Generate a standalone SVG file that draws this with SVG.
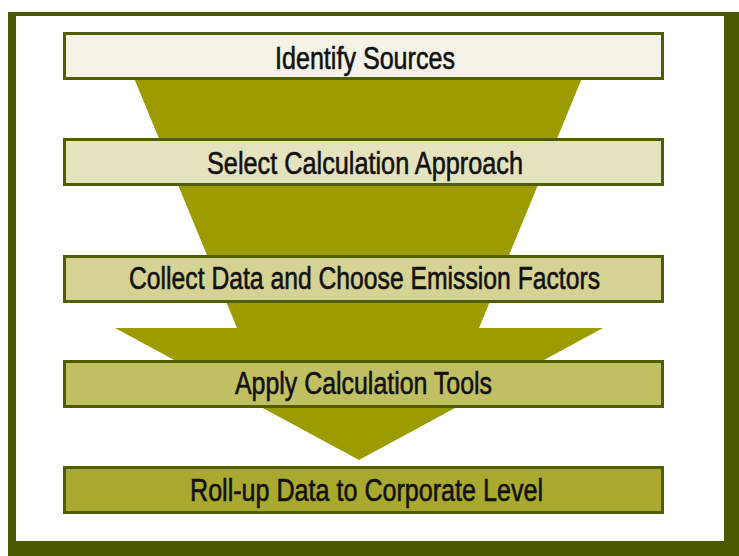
<svg xmlns="http://www.w3.org/2000/svg" width="739" height="556" viewBox="0 0 739 556">
<style>
.box{stroke:#4f5e00;stroke-width:3}
.lbl{font-family:"Liberation Sans",Arial,sans-serif;font-size:31px;fill:#111;stroke:#111;stroke-width:0.6;text-anchor:start}
</style>
<rect x="8" y="12" width="731" height="544" fill="#4b5a00"/>
<rect x="16" y="16" width="708" height="525" fill="#ffffff"/>
<g id="connectors">
<polygon points="134,78 582,78 479,328 603,328 359,460 115,328 237,328" fill="#9c9c00"/>
</g>
<g id="node1">
<rect class="box" x="64.5" y="33.5" width="598" height="45" fill="#f5f3e7"/>
<text class="lbl" x="275" y="69" textLength="180" lengthAdjust="spacingAndGlyphs">Identify Sources</text>
</g>
<g id="node2">
<rect class="box" x="64.5" y="139.5" width="598" height="45" fill="#e5e3bd"/>
<text class="lbl" x="207" y="174" textLength="316" lengthAdjust="spacingAndGlyphs">Select Calculation Approach</text>
</g>
<g id="node3">
<rect class="box" x="64.5" y="256.5" width="598" height="45" fill="#d5d393"/>
<text class="lbl" x="129" y="289" textLength="471" lengthAdjust="spacingAndGlyphs">Collect Data and Choose Emission Factors</text>
</g>
<g id="node4">
<rect class="box" x="64.5" y="361.5" width="598" height="45" fill="#c0bf62"/>
<text class="lbl" x="235" y="394" textLength="257" lengthAdjust="spacingAndGlyphs">Apply Calculation Tools</text>
</g>
<g id="node5">
<rect class="box" x="64.5" y="467.5" width="598" height="45" fill="#a9a92f"/>
<text class="lbl" x="190" y="501" textLength="353" lengthAdjust="spacingAndGlyphs">Roll-up Data to Corporate Level</text>
</g>
</svg>
